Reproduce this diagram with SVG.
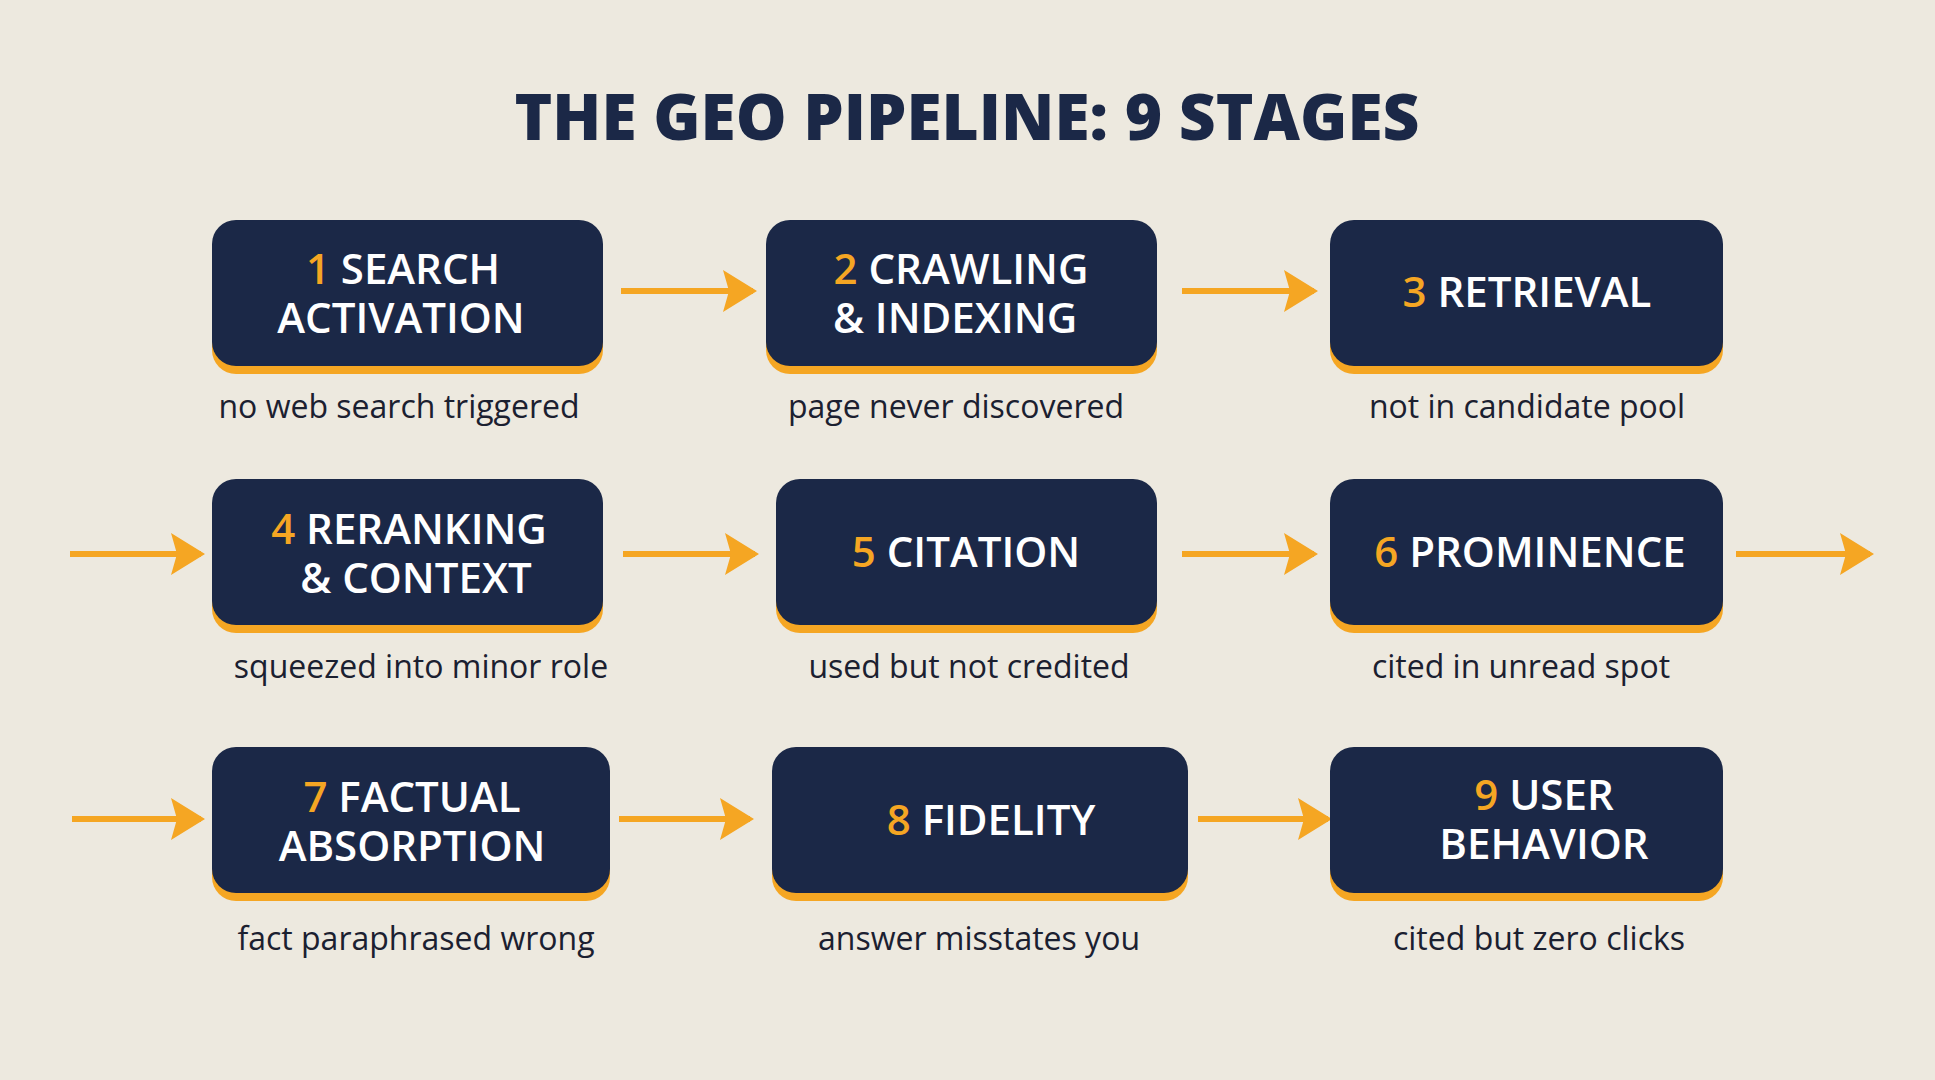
<svg xmlns="http://www.w3.org/2000/svg" width="1935" height="1080" viewBox="0 0 1935 1080">
<style>
.bg{fill:#ede9df}
.sh{fill:#f5a623}
.bx{fill:#1b2847}
.t{font-family:"Open Sans","Liberation Sans",sans-serif;font-weight:600;font-size:42px;fill:#ffffff;text-anchor:middle}
.n{fill:#f5a623}
.l{font-family:"Open Sans","Liberation Sans",sans-serif;font-size:32px;fill:#1b2030;text-anchor:middle}
.ttl{font-family:"Open Sans","Liberation Sans",sans-serif;font-weight:800;font-size:64px;fill:#1b2847;text-anchor:middle}
.ar{stroke:#f5a623;stroke-width:6;fill:none;marker-end:url(#ah)}
</style>
<defs>
<marker id="ah" viewBox="0 0 34 42" refX="30" refY="21" markerWidth="34" markerHeight="42" markerUnits="userSpaceOnUse" orient="auto">
<path d="M0,0 L34,21 L0,42 L6,21 Z" fill="#f5a623"/>
</marker>
</defs>
<rect class="bg" width="1935" height="1080"/>
<text class="ttl" x="967" y="140">THE GEO PIPELINE: 9 STAGES</text>
<g id="connectors">
<line class="ar" x1="621" y1="291" x2="753" y2="291"/>
<line class="ar" x1="1182" y1="291" x2="1314" y2="291"/>
<line class="ar" x1="70" y1="554" x2="201" y2="554"/>
<line class="ar" x1="623" y1="554" x2="755" y2="554"/>
<line class="ar" x1="1182" y1="554" x2="1314" y2="554"/>
<line class="ar" x1="1736" y1="554" x2="1870" y2="554"/>
<line class="ar" x1="72" y1="819" x2="201" y2="819"/>
<line class="ar" x1="619" y1="819" x2="750" y2="819"/>
<line class="ar" x1="1198" y1="819" x2="1328" y2="819"/>
</g>
<g id="n1"><rect class="sh" x="212" y="227" width="391" height="147" rx="24"/><rect class="bx" x="212" y="220" width="391" height="146" rx="24"/>
<text class="t" x="403" y="284"><tspan class="n">1</tspan> SEARCH</text><text class="t" x="401" y="333">ACTIVATION</text>
<text class="l" x="399" y="418">no web search triggered</text></g>
<g id="n2"><rect class="sh" x="766" y="227" width="391" height="147" rx="24"/><rect class="bx" x="766" y="220" width="391" height="146" rx="24"/>
<text class="t" x="961" y="284"><tspan class="n">2</tspan> CRAWLING</text><text class="t" x="955" y="333">&amp; INDEXING</text>
<text class="l" x="956" y="418">page never discovered</text></g>
<g id="n3"><rect class="sh" x="1330" y="227" width="393" height="147" rx="24"/><rect class="bx" x="1330" y="220" width="393" height="146" rx="24"/>
<text class="t" x="1527" y="307"><tspan class="n">3</tspan> RETRIEVAL</text>
<text class="l" x="1527" y="418">not in candidate pool</text></g>
<g id="n4"><rect class="sh" x="212" y="486" width="391" height="147" rx="24"/><rect class="bx" x="212" y="479" width="391" height="146" rx="24"/>
<text class="t" x="409" y="544"><tspan class="n">4</tspan> RERANKING</text><text class="t" x="416" y="593">&amp; CONTEXT</text>
<text class="l" x="421" y="678">squeezed into minor role</text></g>
<g id="n5"><rect class="sh" x="776" y="486" width="381" height="147" rx="24"/><rect class="bx" x="776" y="479" width="381" height="146" rx="24"/>
<text class="t" x="966" y="567"><tspan class="n">5</tspan> CITATION</text>
<text class="l" x="969" y="678">used but not credited</text></g>
<g id="n6"><rect class="sh" x="1330" y="486" width="393" height="147" rx="24"/><rect class="bx" x="1330" y="479" width="393" height="146" rx="24"/>
<text class="t" x="1530" y="567"><tspan class="n">6</tspan> PROMINENCE</text>
<text class="l" x="1521" y="678">cited in unread spot</text></g>
<g id="n7"><rect class="sh" x="212" y="754" width="398" height="147" rx="24"/><rect class="bx" x="212" y="747" width="398" height="146" rx="24"/>
<text class="t" x="412" y="812"><tspan class="n">7</tspan> FACTUAL</text><text class="t" x="412" y="861">ABSORPTION</text>
<text class="l" x="416" y="950">fact paraphrased wrong</text></g>
<g id="n8"><rect class="sh" x="772" y="754" width="416" height="147" rx="24"/><rect class="bx" x="772" y="747" width="416" height="146" rx="24"/>
<text class="t" x="991" y="835"><tspan class="n">8</tspan> FIDELITY</text>
<text class="l" x="979" y="950">answer misstates you</text></g>
<g id="n9"><rect class="sh" x="1330" y="754" width="393" height="147" rx="24"/><rect class="bx" x="1330" y="747" width="393" height="146" rx="24"/>
<text class="t" x="1544" y="810"><tspan class="n">9</tspan> USER</text><text class="t" x="1544" y="859">BEHAVIOR</text>
<text class="l" x="1539" y="950">cited but zero clicks</text></g>
</svg>
